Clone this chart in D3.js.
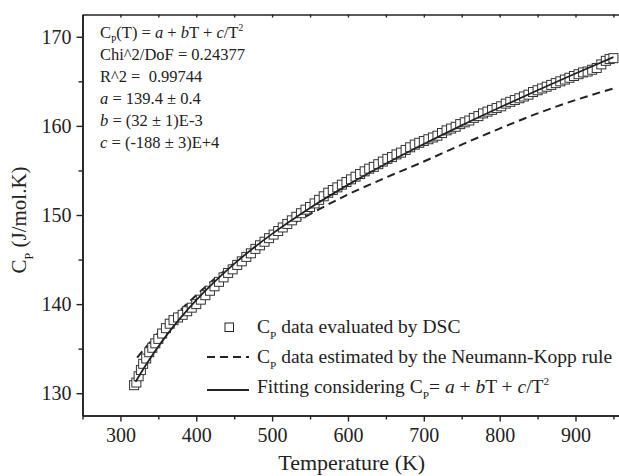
<!DOCTYPE html>
<html>
<head>
<meta charset="utf-8">
<script src="https://cdn.jsdelivr.net/npm/d3@7"></script>
<style>
  body { margin: 0; background: #fff; }
  svg { display: block; }
</style>
</head>
<body>
<svg id="chart" width="619" height="476"></svg>
<script>
// DSC measurements (K, J/mol.K)
const tempDSC = [318, 321, 324, 327, 330, 334, 338, 342, 346, 350, 355, 360, 365, 370, 376, 382, 388, 394,
  400, 406, 412, 418, 424, 430, 436, 442, 448, 454, 460, 466, 472, 478, 484, 490, 496, 502, 508, 514, 520,
  526, 532, 538, 544, 550, 556, 562, 568, 574, 580, 586, 592, 598, 604, 610, 616, 622, 628, 634, 640, 646,
  652, 658, 664, 670, 676, 682, 688, 694, 700, 706, 712, 718, 724, 730, 736, 742, 748, 754, 760, 766, 772,
  778, 784, 790, 796, 802, 808, 814, 820, 826, 832, 838, 844, 850, 856, 862, 868, 874, 880, 886, 892, 898,
  904, 910, 916, 922, 928, 934, 940, 945, 950];
const cpDSC = [130.9, 131.2, 131.9, 132.6, 133.3, 133.9, 134.6, 135.1, 135.6, 136.1, 136.7, 137.3, 137.8,
  138.2, 138.5, 138.8, 139.2, 139.6, 140.0, 140.5, 141.0, 141.5, 142.0, 142.5, 143.0, 143.5, 143.9, 144.4,
  144.8, 145.3, 145.7, 146.2, 146.6, 147.0, 147.4, 147.8, 148.2, 148.6, 149.0, 149.4, 149.8, 150.2, 150.6,
  150.9, 151.3, 151.7, 152.1, 152.5, 152.8, 153.1, 153.4, 153.7, 154.0, 154.3, 154.6, 154.9, 155.2, 155.4,
  155.7, 156.0, 156.3, 156.5, 156.8, 157.0, 157.3, 157.6, 157.9, 158.1, 158.3, 158.5, 158.7, 158.9, 159.2,
  159.5, 159.7, 159.9, 160.2, 160.4, 160.6, 160.9, 161.1, 161.4, 161.6, 161.8, 162.0, 162.2, 162.5, 162.7,
  162.9, 163.1, 163.3, 163.5, 163.8, 164.0, 164.2, 164.4, 164.6, 164.8, 165.0, 165.2, 165.4, 165.6, 165.8,
  166.0, 166.1, 166.3, 166.5, 166.9, 167.3, 167.5, 167.6];

// fitted curve
const tempFit = [320, 330, 340, 350, 360, 380, 400, 425, 450, 475, 500, 550, 600, 650, 700, 750, 800, 850, 900, 950];
const cpFit = [131.28, 132.70, 134.02, 135.25, 136.41, 138.54, 140.45, 142.59, 144.52, 146.27, 147.88,
  150.79, 153.38, 155.75, 157.96, 160.06, 162.06, 164.00, 165.88, 167.72];

// Neumann-Kopp estimate
const tempNK = [322, 340, 360, 380, 400, 425, 450, 475, 500, 550, 600, 650, 700, 750, 800, 850, 900, 950];
const cpNK = [134.0, 135.8, 137.7, 139.4, 141.0, 142.9, 144.6, 146.2, 147.6, 150.1, 152.3, 154.2, 156.0,
  157.9, 159.7, 161.4, 162.9, 164.2];

const xMajor = [300, 400, 500, 600, 700, 800, 900];
const xMinor = [250, 350, 450, 550, 650, 750, 850, 950];
const yMajor = [130, 140, 150, 160, 170];
const yMinor = [135, 145, 155, 165];

const fitInfo = [
  [['C'], ['P', 'sub'], ['(T) = '], ['a', 'i'], [' + '], ['b', 'i'], ['T + '], ['c', 'i'], ['/T'], ['2', 'sup']],
  [['Chi^2/DoF = 0.24377']],
  [['R^2 =  0.99744']],
  [['a', 'i'], [' = 139.4 ± 0.4']],
  [['b', 'i'], [' = (32 ± 1)E-3']],
  [['c', 'i'], [' = (-188 ± 3)E+4']],
];
const legendLabels = [
  [['C'], ['P', 'sub'], [' data evaluated by DSC']],
  [['C'], ['P', 'sub'], [' data estimated by the Neumann-Kopp rule']],
  [['Fitting considering C'], ['P', 'sub'], ['= '], ['a', 'i'], [' + '], ['b', 'i'], ['T + '], ['c', 'i'], ['/T'], ['2', 'sup']],
];

const ink = '#222';
const serif = "'Liberation Serif', 'Times New Roman', Times, 'DejaVu Serif', serif";
const svg = d3.select('#chart');

const x = d3.scaleLinear().domain([250, 960]).range([82.5, 621]);
const y = d3.scaleLinear().domain([127.5, 172.5]).range([415.5, 14.5]);

function richText(parent, px, py, parts, size) {
  const t = parent.append('text')
    .attr('x', px)
    .attr('y', py)
    .attr('fill', ink)
    .attr('font-family', serif)
    .attr('font-size', size)
    .attr('xml:space', 'preserve');
  let shift = 0;
  parts.forEach(([txt, kind]) => {
    const target = kind === 'sub' ? size * 0.32 : kind === 'sup' ? -size * 0.42 : 0;
    t.append('tspan')
      .attr('dy', target - shift)
      .attr('font-size', kind === 'sub' || kind === 'sup' ? size * 0.58 : size)
      .attr('font-style', kind === 'i' ? 'italic' : 'normal')
      .text(txt);
    shift = target;
  });
  return t;
}

// axes
const styleAxis = g => {
  g.attr('font-family', serif).attr('font-size', 20);
  g.select('.domain').attr('stroke', ink).attr('stroke-width', 1.6);
  g.selectAll('.tick line').attr('stroke', ink).attr('stroke-width', 1.4);
  g.selectAll('.tick text').attr('fill', ink);
};

svg.append('g')
  .attr('transform', `translate(0,${y.range()[0]})`)
  .call(d3.axisBottom(x).tickValues(xMinor).tickSize(4).tickSizeOuter(0).tickFormat(''))
  .call(styleAxis);
svg.append('g')
  .attr('transform', `translate(0,${y.range()[0]})`)
  .call(d3.axisBottom(x).tickValues(xMajor).tickSize(6).tickSizeOuter(0).tickPadding(6).tickFormat(d3.format('d')))
  .call(styleAxis);
svg.append('g')
  .attr('transform', `translate(0,${y.range()[1]})`)
  .call(d3.axisTop(x).tickValues(xMajor.concat(xMinor)).tickSize(-3).tickSizeOuter(0).tickFormat(''))
  .call(styleAxis);

svg.append('g')
  .attr('transform', `translate(${x.range()[0]},0)`)
  .call(d3.axisLeft(y).tickValues(yMinor).tickSize(4).tickSizeOuter(0).tickFormat(''))
  .call(styleAxis);
svg.append('g')
  .attr('transform', `translate(${x.range()[0]},0)`)
  .call(d3.axisLeft(y).tickValues(yMajor).tickSize(6).tickSizeOuter(0).tickPadding(5).tickFormat(d3.format('d')))
  .call(styleAxis);

// axis titles
richText(svg, (x.range()[0] + x.range()[1]) / 2, 470, [['Temperature (K)']], 22)
  .attr('text-anchor', 'middle');

const yTitle = svg.append('g')
  .attr('transform', 'translate(26,220) rotate(-90)');
richText(yTitle, 0, 0, [['C'], ['P', 'sub'], [' (J/mol.K)']], 21)
  .attr('text-anchor', 'middle');

// series
const plot = svg.append('g');

plot.append('path')
  .datum(tempNK.map((t, i) => [t, cpNK[i]]))
  .attr('fill', 'none')
  .attr('stroke', ink)
  .attr('stroke-width', 2)
  .attr('stroke-dasharray', '8,5')
  .attr('d', d3.line().x(d => x(d[0])).y(d => y(d[1])).curve(d3.curveMonotoneX));

plot.selectAll('rect.dsc')
  .data(tempDSC.map((t, i) => [t, cpDSC[i]]))
  .enter()
  .append('rect')
  .attr('class', 'dsc')
  .attr('x', d => x(d[0]) - 4.5)
  .attr('y', d => y(d[1]) - 4.5)
  .attr('width', 9)
  .attr('height', 9)
  .attr('fill', '#fff')
  .attr('stroke', '#333')
  .attr('stroke-width', 1);

plot.append('path')
  .datum(tempFit.map((t, i) => [t, cpFit[i]]))
  .attr('fill', 'none')
  .attr('stroke', ink)
  .attr('stroke-width', 1.8)
  .attr('d', d3.line().x(d => x(d[0])).y(d => y(d[1])).curve(d3.curveMonotoneX));

// fit parameters box
fitInfo.forEach((parts, i) => {
  richText(svg, 100, 38 + i * 22, parts, 16.5);
});

// legend
const legend = svg.append('g');
legend.append('rect')
  .attr('x', 225)
  .attr('y', 323)
  .attr('width', 8.5)
  .attr('height', 8.5)
  .attr('fill', '#fff')
  .attr('stroke', ink)
  .attr('stroke-width', 1);
legend.append('line')
  .attr('x1', 207).attr('x2', 249)
  .attr('y1', 357).attr('y2', 357)
  .attr('stroke', ink)
  .attr('stroke-width', 2)
  .attr('stroke-dasharray', '8,5');
legend.append('line')
  .attr('x1', 207).attr('x2', 249)
  .attr('y1', 390).attr('y2', 390)
  .attr('stroke', ink)
  .attr('stroke-width', 1.8);
legendLabels.forEach((parts, i) => {
  richText(legend, 257, 333 + i * 30, parts, 19.5);
});
</script>
</body>
</html>
